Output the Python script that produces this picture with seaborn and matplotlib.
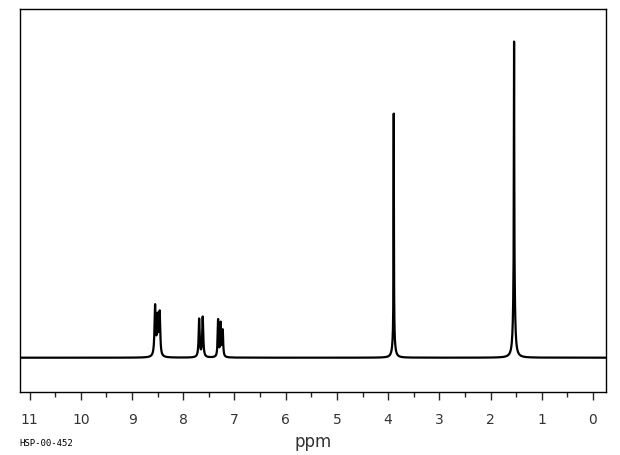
import numpy as np
import pandas as pd
import seaborn as sns
import matplotlib
matplotlib.use('Agg')
import matplotlib.pyplot as plt

# Peak table: position (ppm), height, half-width (ppm).
peak_ppm = [8.55, 8.50, 8.46, 7.69, 7.62, 7.32, 7.27, 7.23,
            3.89, 3.89, 1.54, 1.54]
peak_height = [50, 38, 42, 38, 40, 37, 33, 26,
               222, 22, 236, 80]
peak_width = [0.014, 0.014, 0.012, 0.012, 0.012, 0.010, 0.010, 0.010,
              0.004, 0.025, 0.004, 0.020]

x_ticks = list(range(0, 12))
x_minor = [t + 0.5 for t in range(0, 11)]
code_label = "HSP-00-452"

# Build the trace from the listed Lorentzian lines.
ppm = np.arange(-0.25, 11.19, 0.002)
signal = np.zeros_like(ppm)
for c, h, w in zip(peak_ppm, peak_height, peak_width):
    signal += h * w ** 2 / ((ppm - c) ** 2 + w ** 2)
df = pd.DataFrame({"ppm": ppm, "intensity": signal})

sns.set_style("ticks")
plt.rcParams['font.family'] = ['DejaVu Sans']

fig = plt.figure(figsize=(6.2, 4.55), dpi=100)
ax = fig.add_axes([0.033, 0.138, 0.944, 0.842])

sns.lineplot(data=df, x="ppm", y="intensity", ax=ax, color="black",
             linewidth=1.6, estimator=None, sort=False)

ax.set_xlim(11.18, -0.25)
ax.set_ylim(-34.5, 348.5)
ax.set_yticks([])
ax.set_xticks(x_ticks)
ax.set_xticks(x_minor, minor=True)
ax.set_xticklabels([str(t) for t in x_ticks], fontsize=10, color="#333333")
ax.tick_params(axis='x', which='major', direction='out', length=6, width=1, pad=9)
ax.tick_params(axis='x', which='minor', direction='out', length=3.5, width=1)
ax.set_xlabel("ppm", fontsize=12, color="#333333", labelpad=4)
ax.set_ylabel("")

for side in ax.spines.values():
    side.set_visible(True)
    side.set_color("black")
    side.set_linewidth(1.0)

fig.text(0.032, 0.026, code_label, fontsize=6.5, family="DejaVu Sans Mono",
         color="black", ha="left", va="center")

fig.savefig("out.png", dpi=100)
plt.close()
